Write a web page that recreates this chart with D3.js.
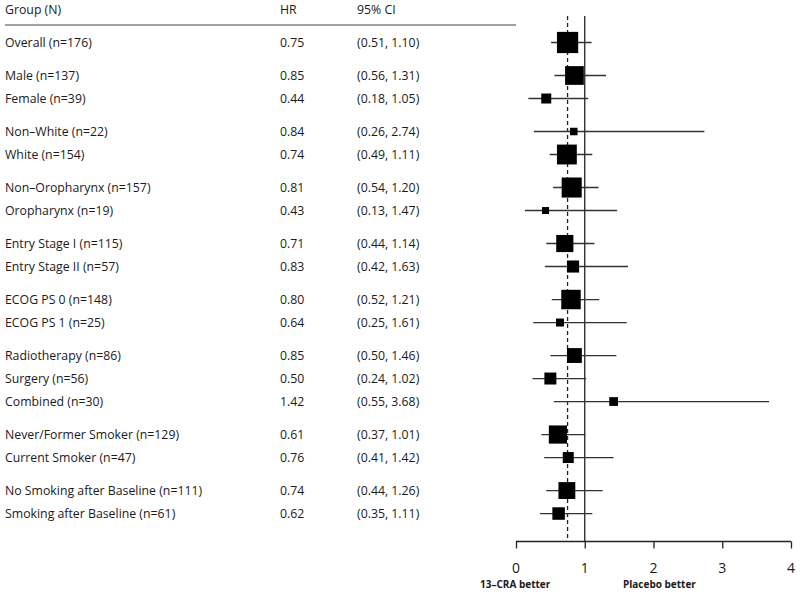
<!DOCTYPE html>
<html>
<head>
<meta charset="utf-8">
<script src="https://cdn.jsdelivr.net/npm/d3@7"></script>
<style>
  body { margin: 0; background: #fff; }
  text { font-family: "Open Sans", sans-serif; fill: #1a1a1a; }
</style>
</head>
<body>
<svg id="chart" width="800" height="595"></svg>
<script>
'use strict';

// groups of subgroup rows, blank gap between groups
var groups = [
  ['Overall (n=176)'],
  ['Male (n=137)', 'Female (n=39)'],
  ['Non\u2013White (n=22)', 'White (n=154)'],
  ['Non\u2013Oropharynx (n=157)', 'Oropharynx (n=19)'],
  ['Entry Stage I (n=115)', 'Entry Stage II (n=57)'],
  ['ECOG PS 0 (n=148)', 'ECOG PS 1 (n=25)'],
  ['Radiotherapy (n=86)', 'Surgery (n=56)', 'Combined (n=30)'],
  ['Never/Former Smoker (n=129)', 'Current Smoker (n=47)'],
  ['No Smoking after Baseline (n=111)', 'Smoking after Baseline (n=61)']
];
var counts = [176, 137, 39, 22, 154, 157, 19, 115, 57, 148, 25, 86, 56, 30, 129, 47, 111, 61];
var hr     = [0.75, 0.85, 0.44, 0.84, 0.74, 0.81, 0.43, 0.71, 0.83, 0.80, 0.64, 0.85, 0.50, 1.42, 0.61, 0.76, 0.74, 0.62];
var lower  = [0.51, 0.56, 0.18, 0.26, 0.49, 0.54, 0.13, 0.44, 0.42, 0.52, 0.25, 0.50, 0.24, 0.55, 0.37, 0.41, 0.44, 0.35];
var upper  = [1.10, 1.31, 1.05, 2.74, 1.11, 1.20, 1.47, 1.14, 1.63, 1.21, 1.61, 1.46, 1.02, 3.68, 1.01, 1.42, 1.26, 1.11];
var overallHR = 0.75;
var xTicks = [0, 1, 2, 3, 4];

var svg = d3.select('#chart');

// flatten groups into rows with a slot position (gap = 0.43 rows)
var rows = [];
var slot = 0;
groups.forEach(function (g) {
  g.forEach(function (label) {
    var i = rows.length;
    rows.push({
      label: label, n: counts[i], hr: hr[i], lo: lower[i], hi: upper[i],
      slot: slot
    });
    slot += 1;
  });
  slot += 0.435;
});

var y = d3.scaleLinear().domain([0, 1]).range([42.5, 65.5]);
var x = d3.scaleLinear().domain([0, 4]).range([516, 791]);
var axisY = 541.5;
var fs = 12.3;

// header
var head = svg.append('g');
head.append('text').attr('x', 5).attr('y', 14).attr('font-size', fs).text('Group (N)');
head.append('text').attr('x', 280).attr('y', 14).attr('font-size', fs).text('HR');
head.append('text').attr('x', 357).attr('y', 14).attr('font-size', fs).text('95% CI');
head.append('line')
  .attr('x1', 5).attr('x2', 516)
  .attr('y1', 25).attr('y2', 25)
  .attr('stroke', '#444').attr('stroke-width', 1.2);

// table text
var txt = svg.append('g').selectAll('g')
  .data(rows)
  .enter().append('g')
  .attr('transform', function (d) { return 'translate(0,' + y(d.slot) + ')'; });

txt.append('text').attr('x', 5).attr('dy', '0.35em').attr('font-size', fs)
  .text(function (d) { return d.label; });
txt.append('text').attr('x', 280).attr('dy', '0.35em').attr('font-size', fs)
  .text(function (d) { return d.hr.toFixed(2); });
txt.append('text').attr('x', 357).attr('dy', '0.35em').attr('font-size', fs)
  .text(function (d) { return '(' + d.lo.toFixed(2) + ', ' + d.hi.toFixed(2) + ')'; });

// reference lines
svg.append('line')
  .attr('x1', x(1)).attr('x2', x(1))
  .attr('y1', 16).attr('y2', axisY)
  .attr('stroke', '#222').attr('stroke-width', 1.3);
svg.append('line')
  .attr('x1', x(overallHR)).attr('x2', x(overallHR))
  .attr('y1', 16).attr('y2', axisY)
  .attr('stroke', '#222').attr('stroke-width', 1.3)
  .attr('stroke-dasharray', '4,3');

// CI lines and boxes
var marks = svg.append('g').selectAll('g')
  .data(rows)
  .enter().append('g');

marks.append('line')
  .attr('x1', function (d) { return x(d.lo); })
  .attr('x2', function (d) { return x(d.hi); })
  .attr('y1', function (d) { return y(d.slot); })
  .attr('y2', function (d) { return y(d.slot); })
  .attr('stroke', '#333').attr('stroke-width', 1.3);

var side = function (d) { return 1.6 * Math.sqrt(d.n); };
marks.append('rect')
  .attr('x', function (d) { return x(d.hr) - side(d) / 2; })
  .attr('y', function (d) { return y(d.slot) - side(d) / 2; })
  .attr('width', side)
  .attr('height', side)
  .attr('fill', '#000');

// x axis (line and ticks from d3, labels placed lower like the original)
var axis = svg.append('g')
  .attr('transform', 'translate(0,' + axisY + ')')
  .call(d3.axisBottom(x).tickValues(xTicks).tickFormat('').tickSize(7));
axis.select('.domain').attr('stroke', '#222').attr('stroke-width', 1.3)
  .attr('d', 'M' + x(0) + ',0H' + x(4));
axis.selectAll('.tick line').attr('stroke', '#222').attr('stroke-width', 1.3);

svg.append('g').selectAll('text')
  .data(xTicks)
  .enter().append('text')
  .attr('x', function (d) { return x(d); })
  .attr('y', axisY + 31)
  .attr('text-anchor', 'middle')
  .attr('font-size', 14)
  .text(function (d) { return d; });

svg.append('text').attr('x', 480).attr('y', 588).attr('font-size', 10)
  .attr('font-weight', 'bold').text('13\u2013CRA better');
svg.append('text').attr('x', 623).attr('y', 588).attr('font-size', 10)
  .attr('font-weight', 'bold').text('Placebo better');
</script>
</body>
</html>
